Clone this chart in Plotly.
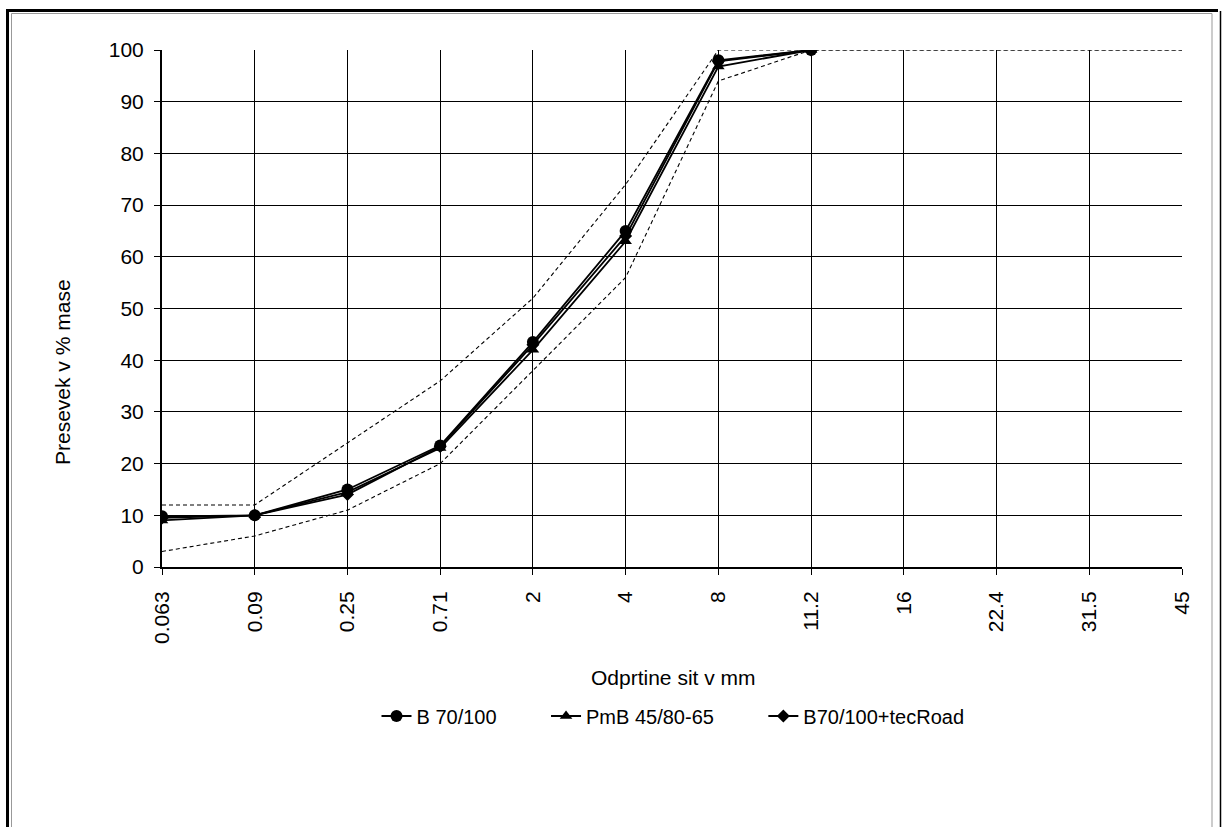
import plotly.graph_objects as go

sieves = ["0.063", "0.09", "0.25", "0.71", "2", "4", "8", "11.2", "16", "22.4", "31.5", "45"]
b70 = [9.8, 10, 15, 23.5, 43.5, 65, 98, 100]
pmb = [9.0, 10, 14.5, 23, 42, 63, 96.8, 100]
tecroad = [9.5, 10, 14, 23.3, 43, 64, 97.8, 100]
upper = [12, 12, 24, 36, 52, 74, 100, 100, 100, 100, 100, 100]
lower = [3, 6, 11, 20, 38, 56, 94, 100, 100, 100, 100, 100]
names = ["B 70/100", "PmB 45/80-65", "B70/100+tecRoad"]

FONT = "Liberation Sans, Arial, sans-serif"
L, R, T, B = 162, 1182, 50, 567
W, H = 1222, 827
NB = "\u00a0" * 8

def px(x):
    return (x - L) / (R - L)

def py(y):
    return (B - y) / (B - T)

fig = go.Figure()
for ys in (upper, lower):
    fig.add_trace(go.Scatter(x=sieves[:len(ys)], y=ys, mode="lines",
                             line=dict(color="black", width=1.1, dash="4px,3px"),
                             showlegend=False, hoverinfo="skip"))

for i, (name, ys, sym, sz) in enumerate(((names[0], b70, "circle", 12),
                                         (names[1], pmb, "triangle-up", 11),
                                         (names[2], tecroad, "diamond", 10))):
    fig.add_trace(go.Scatter(x=sieves[:len(ys)], y=ys, name=name + (NB if i < 2 else ""),
                             mode="lines+markers",
                             line=dict(color="black", width=1.8),
                             marker=dict(symbol=sym, size=sz, color="black")))

shapes = [
    dict(type="line", xref="paper", yref="paper", x0=px(7.5), x1=px(7.5), y0=py(10), y1=py(830),
         line=dict(color="black", width=3)),
    dict(type="line", xref="paper", yref="paper", x0=px(6), x1=px(1218), y0=py(10.5), y1=py(10.5),
         line=dict(color="black", width=3)),
    dict(type="line", xref="paper", yref="paper", x0=px(11.5), x1=px(11.5), y0=py(13.5), y1=py(830),
         line=dict(color="#999999", width=1)),
    dict(type="line", xref="paper", yref="paper", x0=px(11.5), x1=px(1212), y0=py(13.5), y1=py(13.5),
         line=dict(color="#999999", width=1)),
    dict(type="line", xref="paper", yref="paper", x0=px(1212), x1=px(1212), y0=py(13.5), y1=py(830),
         line=dict(color="#999999", width=1)),
    dict(type="line", xref="paper", yref="paper", x0=px(1220.5), x1=px(1220.5), y0=py(11), y1=py(830),
         line=dict(color="black", width=1.5)),
]

fig.update_layout(
    width=W, height=H,
    margin=dict(l=L, r=W - R, t=T, b=H - B),
    paper_bgcolor="white", plot_bgcolor="white",
    font=dict(family=FONT, size=21, color="black"),
    showlegend=True,
    legend=dict(orientation="h", x=px(673), xanchor="center", y=py(716), yanchor="middle",
                font=dict(family=FONT, size=20), itemwidth=30, tracegroupgap=0),
    shapes=shapes,
    annotations=[
        dict(text="Odprtine sit v mm", xref="paper", yref="paper", x=px(673), y=py(677),
             showarrow=False, xanchor="center", yanchor="middle", font=dict(size=21)),
        dict(text="Presevek v % mase", xref="paper", yref="paper", x=px(62), y=py(372),
             showarrow=False, xanchor="center", yanchor="middle", textangle=-90, font=dict(size=21)),
    ],
)
fig.update_xaxes(type="category", categoryorder="array", categoryarray=sieves,
                 range=[0, len(sieves) - 1], tickangle=-90,
                 showgrid=True, gridcolor="black", gridwidth=1.2,
                 showline=True, linecolor="black", linewidth=2,
                 ticks="outside", ticklen=6, tickcolor="black", tickfont=dict(size=21),
                 ticklabelstandoff=8)
fig.update_yaxes(range=[0, 100], dtick=10, showgrid=True, gridcolor="black", gridwidth=1.2,
                 showline=True, linecolor="black", linewidth=2, zeroline=False,
                 ticks="outside", ticklen=6, tickcolor="black", tickfont=dict(size=21),
                 ticklabelstandoff=6)

fig.write_html("out.html")
